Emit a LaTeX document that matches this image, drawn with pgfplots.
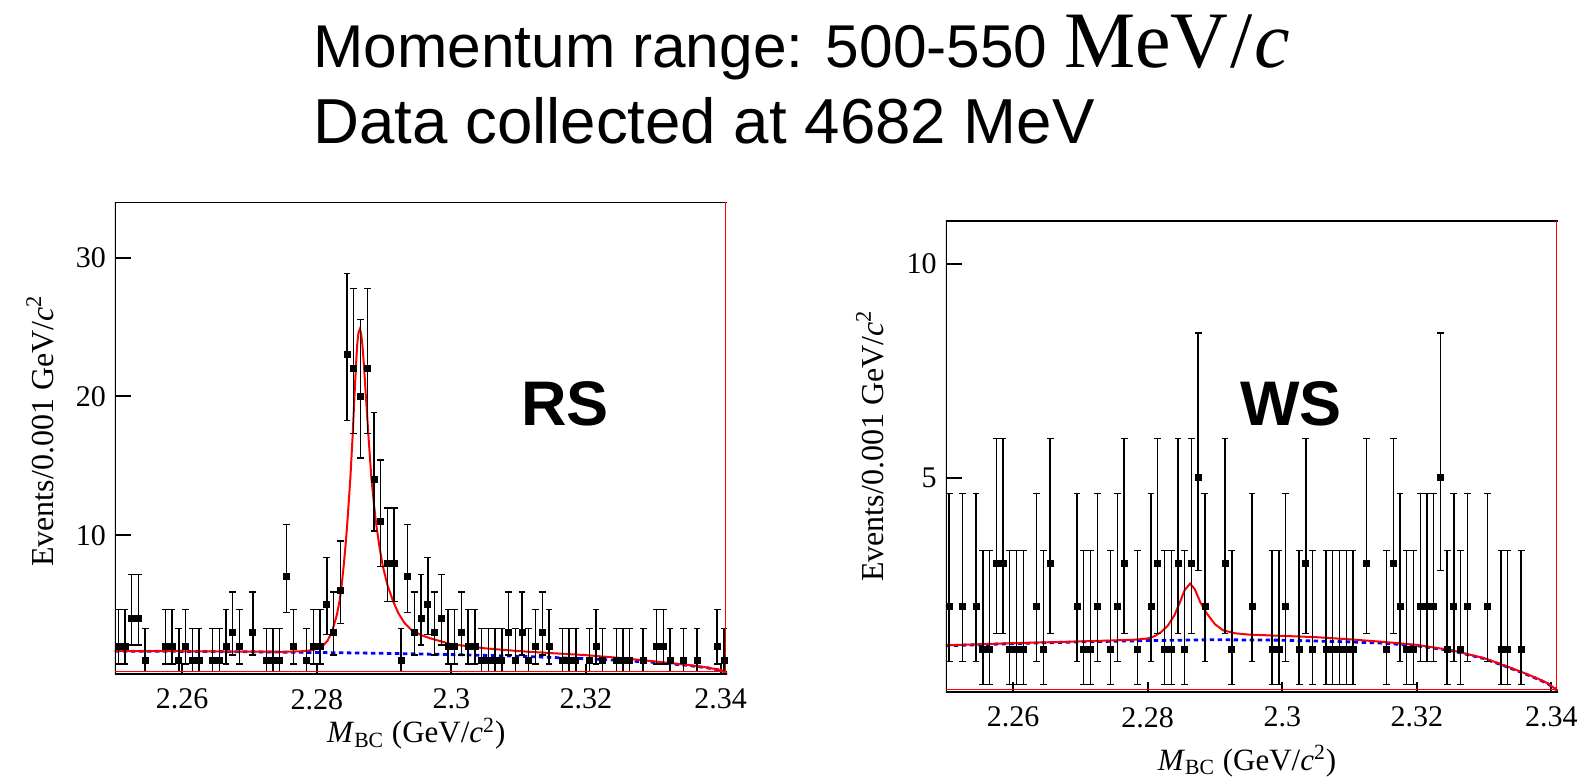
\documentclass[border=0pt]{standalone}
\usepackage{pgfplots}
\usepackage{pgfplotstable}
\pgfplotsset{compat=1.18}
\usepackage{fontspec}
\setmainfont{Liberation Serif}
\newfontfamily\arialfont{Liberation Sans}

\pgfplotstableread{
x y ep em
2.2505 2 2.638 1.292
2.2515 2 2.638 1.292
2.2525 4 3.162 1.914
2.2535 4 3.162 1.914
2.2545 1 2.299 0.827
2.2575 2 2.638 1.292
2.2585 2 2.638 1.292
2.2595 1 2.299 0.827
2.2605 2 2.638 1.292
2.2615 1 2.299 0.827
2.2625 1 2.299 0.827
2.2645 1 2.299 0.827
2.2655 1 2.299 0.827
2.2665 2 2.638 1.292
2.2675 3 2.918 1.633
2.2685 2 2.638 1.292
2.2705 3 2.918 1.633
2.2725 1 2.299 0.827
2.2735 1 2.299 0.827
2.2745 1 2.299 0.827
2.2755 7 3.770 2.580
2.2765 2 2.638 1.292
2.2785 1 2.299 0.827
2.2795 2 2.638 1.292
2.2805 2 2.638 1.292
2.2815 5 3.382 2.159
2.2825 3 2.918 1.633
2.2835 6 3.583 2.379
2.2845 23 5.860 4.760
2.2855 22 5.757 4.654
2.2865 20 5.546 4.434
2.2875 22 5.757 4.654
2.2885 14 4.830 3.699
2.2895 11 4.416 3.265
2.2905 8 3.945 2.768
2.2915 8 3.945 2.768
2.2925 1 2.299 0.827
2.2935 7 3.770 2.580
2.2945 3 2.918 1.633
2.2955 4 3.162 1.914
2.2965 5 3.382 2.159
2.2975 3 2.918 1.633
2.2985 4 3.162 1.914
2.2995 2 2.638 1.292
2.3005 2 2.638 1.292
2.3015 3 2.918 1.633
2.3025 2 2.638 1.292
2.3035 2 2.638 1.292
2.3045 1 2.299 0.827
2.3055 1 2.299 0.827
2.3065 1 2.299 0.827
2.3075 1 2.299 0.827
2.3085 3 2.918 1.633
2.3095 1 2.299 0.827
2.3105 3 2.918 1.633
2.3115 1 2.299 0.827
2.3125 2 2.638 1.292
2.3135 3 2.918 1.633
2.3145 2 2.638 1.292
2.3165 1 2.299 0.827
2.3175 1 2.299 0.827
2.3185 1 2.299 0.827
2.3205 1 2.299 0.827
2.3215 2 2.638 1.292
2.3225 1 2.299 0.827
2.3245 1 2.299 0.827
2.3255 1 2.299 0.827
2.3265 1 2.299 0.827
2.3285 1 2.299 0.827
2.3305 2 2.638 1.292
2.3315 2 2.638 1.292
2.3325 1 2.299 0.827
2.3345 1 2.299 0.827
2.3365 1 2.299 0.827
2.3395 2 2.638 1.292
2.3405 1 2.299 0.827
}\rsdata

\pgfplotstableread{
x y ep em
2.2505 2 2.638 1.292
2.2525 2 2.638 1.292
2.2545 2 2.638 1.292
2.2555 1 2.299 0.827
2.2565 1 2.299 0.827
2.2575 3 2.918 1.633
2.2585 3 2.918 1.633
2.2595 1 2.299 0.827
2.2605 1 2.299 0.827
2.2615 1 2.299 0.827
2.2635 2 2.638 1.292
2.2645 1 2.299 0.827
2.2655 3 2.918 1.633
2.2695 2 2.638 1.292
2.2705 1 2.299 0.827
2.2715 1 2.299 0.827
2.2725 2 2.638 1.292
2.2745 1 2.299 0.827
2.2755 2 2.638 1.292
2.2765 3 2.918 1.633
2.2785 1 2.299 0.827
2.2805 2 2.638 1.292
2.2815 3 2.918 1.633
2.2825 1 2.299 0.827
2.2835 1 2.299 0.827
2.2845 3 2.918 1.633
2.2855 1 2.299 0.827
2.2865 3 2.918 1.633
2.2875 5 3.382 2.159
2.2885 2 2.638 1.292
2.2915 3 2.918 1.633
2.2925 1 2.299 0.827
2.2955 2 2.638 1.292
2.2985 1 2.299 0.827
2.2995 1 2.299 0.827
2.3005 2 2.638 1.292
2.3025 1 2.299 0.827
2.3035 3 2.918 1.633
2.3045 1 2.299 0.827
2.3065 1 2.299 0.827
2.3075 1 2.299 0.827
2.3085 1 2.299 0.827
2.3095 1 2.299 0.827
2.3105 1 2.299 0.827
2.3125 3 2.918 1.633
2.3155 1 2.299 0.827
2.3165 3 2.918 1.633
2.3175 2 2.638 1.292
2.3185 1 2.299 0.827
2.3195 1 2.299 0.827
2.3205 2 2.638 1.292
2.3215 2 2.638 1.292
2.3225 2 2.638 1.292
2.3235 5 3.382 2.159
2.3245 1 2.299 0.827
2.3255 2 2.638 1.292
2.3265 1 2.299 0.827
2.3275 2 2.638 1.292
2.3305 2 2.638 1.292
2.3325 1 2.299 0.827
2.3335 1 2.299 0.827
2.3355 1 2.299 0.827
}\wsdata

\pgfplotstableread{
x y
2.2500 1.65
2.2600 1.63
2.2700 1.60
2.2800 1.55
2.2900 1.49
2.3000 1.40
2.3100 1.28
2.3200 1.10
2.3250 0.98
2.3300 0.84
2.3350 0.63
2.3380 0.45
2.3400 0.27
2.3405 0.19
2.3410 0.00
}\rsbkg

\pgfplotstableread{
x y
2.2500 1.66
2.2600 1.64
2.2700 1.61
2.2750 1.60
2.2775 1.63
2.2790 1.70
2.2800 1.80
2.2810 2.08
2.2816 2.40
2.2822 3.00
2.2826 3.60
2.2830 4.30
2.2834 5.30
2.2837 6.40
2.2840 7.80
2.2843 9.40
2.2846 11.3
2.2850 14.2
2.2853 16.9
2.2856 20.0
2.2858 22.0
2.2860 23.7
2.2862 24.6
2.2864 24.85
2.2866 24.5
2.2868 23.6
2.2870 22.3
2.2873 20.0
2.2877 17.0
2.2881 14.2
2.2885 12.2
2.2888 10.9
2.2893 9.20
2.2898 7.80
2.2905 6.40
2.2913 5.30
2.2921 4.40
2.2930 3.70
2.2940 3.20
2.2955 2.80
2.2970 2.55
2.3000 2.15
2.3050 1.85
2.3100 1.65
2.3150 1.50
2.3200 1.36
2.3250 1.16
2.3300 0.92
2.3350 0.66
2.3380 0.47
2.3400 0.28
2.3405 0.20
2.3410 0.00
}\rsfit

\pgfplotstableread{
x y
2.2500 1.08
2.2600 1.13
2.2700 1.17
2.2800 1.20
2.2900 1.22
2.3000 1.21
2.3100 1.17
2.3150 1.14
2.3200 1.08
2.3250 0.97
2.3300 0.78
2.3330 0.61
2.3360 0.43
2.3380 0.30
2.3395 0.19
2.3405 0.08
2.3410 0.00
}\wsbkg

\pgfplotstableread{
x y
2.2500 1.09
2.2600 1.14
2.2700 1.18
2.2780 1.22
2.2800 1.25
2.2810 1.30
2.2820 1.40
2.2830 1.55
2.2840 1.80
2.2848 2.10
2.2855 2.38
2.2863 2.53
2.2870 2.40
2.2878 2.10
2.2887 1.85
2.2900 1.58
2.2912 1.44
2.2930 1.37
2.2950 1.34
2.3000 1.31
2.3050 1.28
2.3100 1.23
2.3150 1.17
2.3200 1.10
2.3250 0.98
2.3300 0.79
2.3330 0.62
2.3360 0.44
2.3380 0.31
2.3395 0.20
2.3405 0.08
2.3410 0.00
}\wsfit

\pgfplotsset{
  mbc/.style={
    scale only axis,
    width=306.2pt,
    xmin=2.25, xmax=2.341,
    axis line style={draw=none},
    tickpos=left,
    tick align=inside,
    major tick length=8pt,
    tick style={black, line width=1pt},
    xtick style={/pgfplots/major tick length=5pt},
    minor tick num=0,
    xtick={2.26,2.28,2.30,2.32,2.34},
    xticklabels={2.26,2.28,2.3,2.32,2.34},
    /pgf/number format/assume math mode=true,
    ticklabel style={font=\fontsize{15}{18}\selectfont},
    yticklabel style={xshift=-1pt},
    xticklabel style={yshift=-4pt},
    every axis y label/.style={rotate=90, anchor=center, font=\fontsize{16}{19}\selectfont},
    every axis x label/.style={anchor=base, font=\fontsize{15.5}{19}\selectfont},
    ylabel={Events/0.001 GeV/\textit{c}\textsuperscript{2}},
    xlabel={\textit{M}\textsubscript{BC} (GeV/\textit{c}\textsuperscript{2})},
    clip=true,
  },
  datapts/.style={
    black, only marks, mark=square*, mark size=1.5pt,
    error bars/.cd, y dir=both, y explicit,
    error bar style={black, line width=0.7pt},
    error mark options={black, rotate=90, mark size=1.7pt, line width=0.7pt},
  },
  bkgline/.style={blue, line width=1.4pt, dash pattern=on 2.2pt off 1.8pt},
  fitline/.style={red, line width=1pt},
}

\begin{document}
\begin{tikzpicture}
\path[use as bounding box] (0pt,0pt) rectangle (791.5pt,389pt);

\node[anchor=base west, inner sep=0pt, font=\arialfont\fontsize{30.2}{36}\selectfont] at (156.5pt,355.2pt) {Momentum range: 500-550 {\rmfamily\fontsize{40}{46}\selectfont MeV\kern1pt/\kern1pt\textit{c}}};
\node[anchor=base west, inner sep=0pt, font=\arialfont\fontsize{31.8}{38}\selectfont] at (156.5pt,317.3pt) {Data collected at 4682 MeV};

% RS panel
\begin{axis}[mbc, at={(57.45pt,52pt)}, anchor=south west, height=236pt,
  ymin=0, ymax=34, ytick={10,20,30},
  x label style={at={(axis description cs:0.492,-0.146)}},
  y label style={at={(axis description cs:-0.122,0.515)}},
]
\addplot[bkgline] table[x=x,y=y] {\rsbkg};
\addplot[fitline] table[x=x,y=y] {\rsfit};
\addplot[datapts] table[x=x, y=y, y error plus=ep, y error minus=em] {\rsdata};
\draw[black, line width=1.1pt] (rel axis cs:1,1) -- (rel axis cs:0,1) -- (rel axis cs:0,0) -- (rel axis cs:1,0);
\draw[red, line width=0.45pt] (rel axis cs:0,0.006) -- (rel axis cs:0.997,0.006) -- (rel axis cs:0.997,1);
\end{axis}

% WS panel
\begin{axis}[mbc, at={(472.9pt,43pt)}, anchor=south west, height=235.65pt,
  ymin=0, ymax=11, ytick={5,10},
  x label style={at={(axis description cs:0.492,-0.1655)}},
  y label style={at={(axis description cs:-0.124,0.522)}},
]
\addplot[bkgline] table[x=x,y=y] {\wsbkg};
\addplot[fitline] table[x=x,y=y] {\wsfit};
\addplot[datapts] table[x=x, y=y, y error plus=ep, y error minus=em] {\wsdata};
\draw[black, line width=1.1pt] (rel axis cs:1,1) -- (rel axis cs:0,1) -- (rel axis cs:0,0) -- (rel axis cs:1,0);
\draw[red, line width=0.45pt] (rel axis cs:0,0.006) -- (rel axis cs:0.997,0.006) -- (rel axis cs:0.997,1);
\end{axis}

\node[anchor=base west, inner sep=0pt, font=\arialfont\bfseries\fontsize{31.5}{38}\selectfont] at (260.5pt,176.5pt) {RS};
\node[anchor=base west, inner sep=0pt, font=\arialfont\bfseries\fontsize{31.5}{38}\selectfont] at (620pt,176.5pt) {WS};
\end{tikzpicture}
\end{document}
